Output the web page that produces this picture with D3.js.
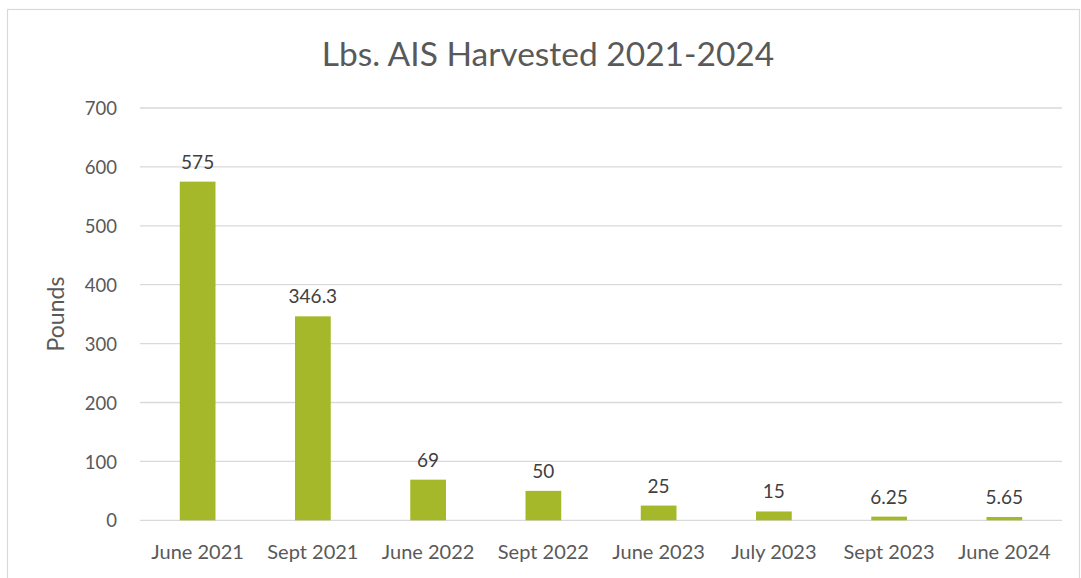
<!DOCTYPE html>
<html>
<head>
<meta charset="utf-8">
<script src="https://cdn.jsdelivr.net/npm/d3@7"></script>
<style>
  body { margin: 0; background: #fff; }
  text { font-family: Lato, "Open Sans", sans-serif; }
</style>
</head>
<body>
<div class="canvas"></div>
<script>
// chart data
var categories = ["June 2021", "Sept 2021", "June 2022", "Sept 2022", "June 2023", "July 2023", "Sept 2023", "June 2024"];
var pounds = [575, 346.3, 69, 50, 25, 15, 6.25, 5.65];
var labels = ["575", "346.3", "69", "50", "25", "15", "6.25", "5.65"];
var yTicks = [0, 100, 200, 300, 400, 500, 600, 700];

var width = 1081, height = 578;
var margin = {left: 140, right: 19, top: 108, bottom: 57.7};

var svg = d3.select(".canvas").append("svg")
  .attr("width", width)
  .attr("height", height);

// chart frame
svg.append("rect")
  .attr("x", 7.5).attr("y", 9.5)
  .attr("width", 1072).attr("height", 600)
  .attr("fill", "none")
  .attr("stroke", "#d9d9d9")
  .attr("stroke-width", 1.2);

var x = d3.scaleBand()
  .domain(categories)
  .range([margin.left, width - margin.right])
  .paddingInner(0.69)
  .paddingOuter(0.345);

var y = d3.scaleLinear()
  .domain([0, 700])
  .range([height - margin.bottom, margin.top]);

// gridlines
svg.append("g")
  .selectAll("line")
  .data(yTicks)
  .enter()
  .append("line")
  .attr("x1", margin.left)
  .attr("x2", width - margin.right)
  .attr("y1", function(d) { return y(d); })
  .attr("y2", function(d) { return y(d); })
  .attr("stroke", "#d9d9d9")
  .attr("stroke-width", 1.3);

// y axis labels
var yAxis = d3.axisLeft(y).tickValues(yTicks).tickSize(0).tickPadding(0);
var gy = svg.append("g")
  .attr("transform", "translate(117,0)")
  .call(yAxis);
gy.select(".domain").remove();
gy.selectAll("text")
  .attr("fill", "#595959")
  .style("font-size", "18.5px")
  .attr("dy", "0.36em");

// x axis labels
var xAxis = d3.axisBottom(x).tickSize(0).tickPadding(0);
var gx = svg.append("g")
  .attr("transform", "translate(0," + (height - margin.bottom) + ")")
  .call(xAxis);
gx.select(".domain").remove();
gx.selectAll("text")
  .attr("fill", "#595959")
  .style("font-size", "20px")
  .attr("dy", 0)
  .attr("y", 39);

// bars
svg.append("g")
  .selectAll("rect")
  .data(pounds)
  .enter()
  .append("rect")
  .attr("x", function(d, i) { return x(categories[i]); })
  .attr("y", function(d) { return y(d); })
  .attr("width", x.bandwidth())
  .attr("height", function(d) { return y(0) - y(d); })
  .attr("fill", "#a5b829");

// data labels
svg.append("g")
  .selectAll("text")
  .data(pounds)
  .enter()
  .append("text")
  .attr("x", function(d, i) { return x(categories[i]) + x.bandwidth() / 2; })
  .attr("y", function(d) { return y(d) - 13; })
  .attr("text-anchor", "middle")
  .attr("fill", "#404040")
  .style("font-size", "19px")
  .text(function(d, i) { return labels[i]; });

// title
svg.append("text")
  .attr("x", 548)
  .attr("y", 66)
  .attr("text-anchor", "middle")
  .attr("fill", "#595959")
  .style("font-size", "33.5px")
  .text("Lbs. AIS Harvested 2021-2024");

// y axis title
svg.append("text")
  .attr("transform", "translate(64,314) rotate(-90)")
  .attr("text-anchor", "middle")
  .attr("fill", "#595959")
  .style("font-size", "23px")
  .text("Pounds");
</script>
</body>
</html>
